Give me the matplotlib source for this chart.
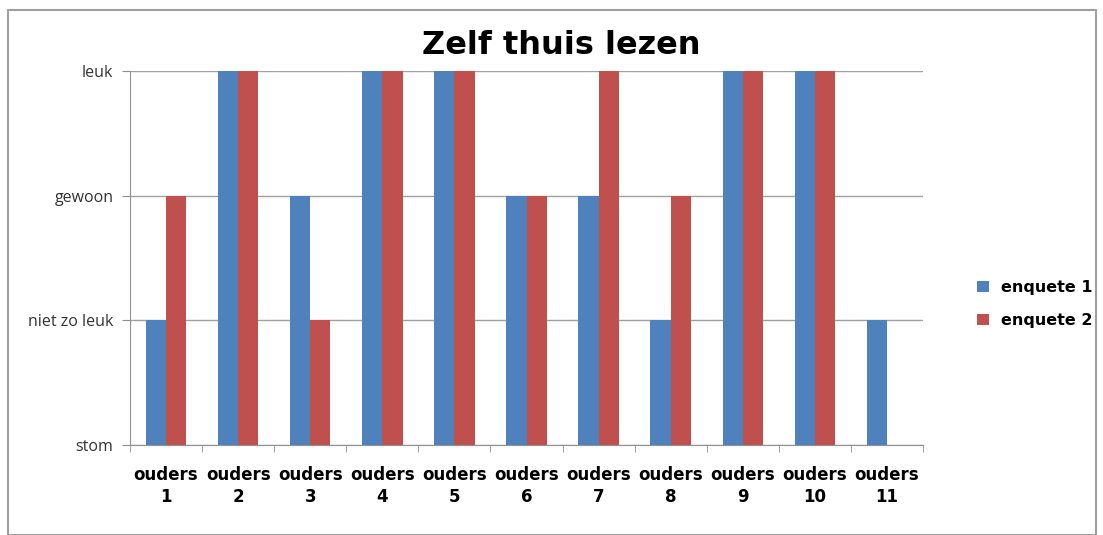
import matplotlib
matplotlib.use("Agg")
import matplotlib.pyplot as plt
import numpy as np
from matplotlib.patches import Rectangle

categories = ["ouders\n1", "ouders\n2", "ouders\n3", "ouders\n4", "ouders\n5", "ouders\n6",
              "ouders\n7", "ouders\n8", "ouders\n9", "ouders\n10", "ouders\n11"]
enquete1 = [1, 3, 2, 3, 3, 2, 2, 1, 3, 3, 1]
enquete2 = [2, 3, 1, 3, 3, 2, 3, 2, 3, 3, 0]
y_labels = ["stom", "niet zo leuk", "gewoon", "leuk"]
series_names = ["enquete 1", "enquete 2"]
colors = ["#4F81BD", "#C0504D"]

fig = plt.figure(figsize=(11.03, 5.35), dpi=100)
W, H = 1103, 535
ax = fig.add_axes([130 / W, 1 - 445 / H, (923 - 130) / W, (445 - 71) / H])

x = np.arange(len(categories))
w = 0.28
ax.bar(x - w / 2, enquete1, width=w, color=colors[0], label=series_names[0], zorder=3)
ax.bar(x + w / 2, enquete2, width=w, color=colors[1], label=series_names[1], zorder=3)

ax.set_xlim(-0.5, len(categories) - 0.5)
ax.set_ylim(0, 3)
ax.set_yticks(range(len(y_labels)))
ax.set_yticklabels(y_labels, fontsize=11.5, color="#333333", family=["Open Sans", "DejaVu Sans"])
ax.yaxis.grid(True, color="#A0A0A0", linewidth=1, zorder=0)
ax.tick_params(axis="y", length=6, color="#909090", pad=6)

ax.set_xticks(x)
ax.set_xticklabels(categories, fontsize=12, fontweight="bold",
                   family=["DejaVu Sans"], linespacing=1.3)
ax.set_xticks(np.arange(-0.5, len(categories)), minor=True)
ax.tick_params(axis="x", which="major", length=0, pad=15)
ax.tick_params(axis="x", which="minor", length=5, color="#909090")

for s in ["top", "right"]:
    ax.spines[s].set_visible(False)
for s in ["left", "bottom"]:
    ax.spines[s].set_color("#909090")

fig.text(561 / W, 1 - 46 / H, "Zelf thuis lezen", ha="center", va="center",
         fontsize=23, fontweight="bold", family=["DejaVu Sans"])

leg = fig.legend(loc="center left", bbox_to_anchor=(963 / W, 1 - 304 / H), frameon=False,
                 prop={"weight": "bold", "size": 11.5, "family": ["DejaVu Sans"]},
                 handlelength=0.7, handleheight=0.7, handletextpad=0.8, labelspacing=1.1)

fig.patches.append(Rectangle((8 / W, 0), (1096 - 8) / W, 1 - 10 / H, transform=fig.transFigure,
                             fill=False, edgecolor="#A0A0A0", linewidth=1.5))

fig.savefig("out.png", dpi=100)
